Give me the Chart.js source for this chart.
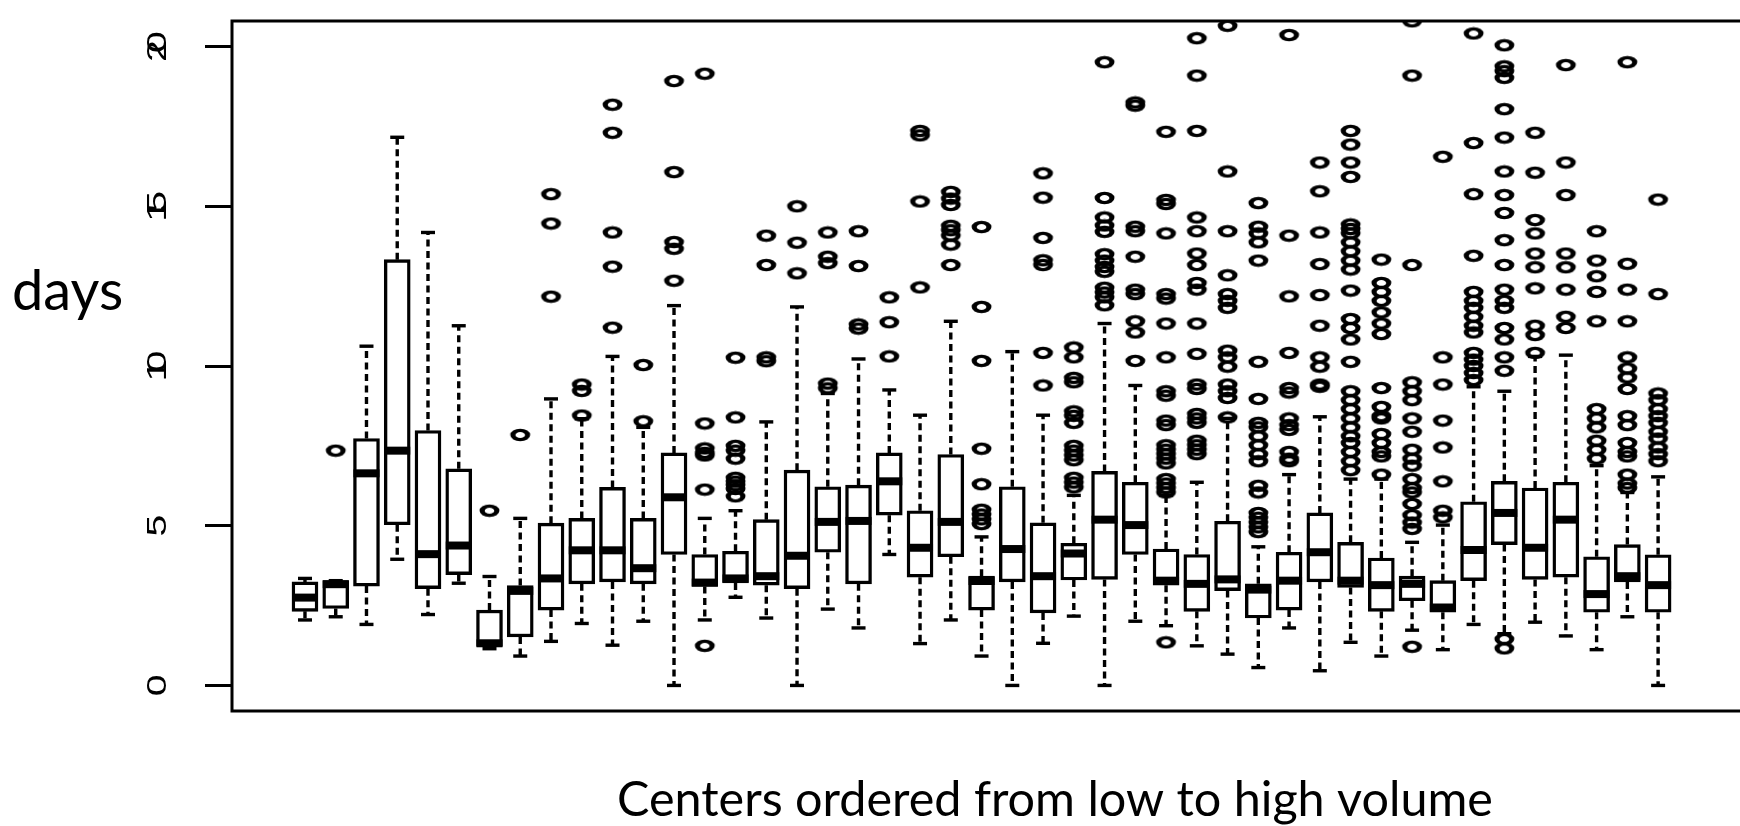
<!DOCTYPE html>
<html>
<head>
<meta charset="utf-8">
<title>Days by center</title>
<script src="https://cdn.jsdelivr.net/npm/chart.js@4.4.1/dist/chart.umd.min.js"></script>
<style>
  html, body { margin: 0; padding: 0; background: #fff; overflow: hidden; }
</style>
</head>
<body>
<canvas id="boxChart" width="1740" height="826"></canvas>
<script>
// Five-number summaries per center, centers ordered from low to high volume
const lowerWhisker = [2.05, 2.15, 1.91, 3.95, 2.22, 3.20, 1.15, 0.92, 1.38, 1.94,
  1.26, 2.01, 0, 2.05, 2.76, 2.11, 0, 2.39, 1.80, 4.10,
  1.31, 2.05, 0.92, 0, 1.32, 2.17, 0, 2.01, 1.87, 1.24,
  0.98, 0.56, 1.80, 0.46, 1.35, 0.92, 1.73, 1.12, 1.91, 1.62,
  1.98, 1.55, 1.12, 2.15, 0];
const lowerQuartile = [2.32, 2.41, 3.11, 5.03, 3.03, 3.47, 1.22, 1.52, 2.36, 3.18,
  3.24, 3.18, 4.10, 3.10, 3.21, 3.14, 3.03, 4.17, 3.18, 5.33,
  3.39, 4.03, 2.36, 3.24, 2.27, 3.30, 3.32, 4.10, 3.14, 2.32,
  2.97, 2.11, 2.36, 3.24, 3.07, 2.32, 2.65, 2.29, 3.28, 4.41,
  3.32, 3.39, 2.29, 3.24, 2.29];
const medianDays = [2.75, 3.17, 6.64, 7.35, 4.11, 4.38, 1.32, 2.96, 3.35, 4.23,
  4.23, 3.67, 5.89, 3.22, 3.35, 3.42, 4.06, 5.12, 5.15, 6.39,
  4.31, 5.12, 3.27, 4.27, 3.42, 4.13, 5.19, 5.02, 3.28, 3.18,
  3.32, 3.00, 3.28, 4.17, 3.28, 3.14, 3.18, 2.44, 4.24, 5.40,
  4.31, 5.19, 2.86, 3.42, 3.14];
const upperQuartile = [3.24, 3.28, 7.73, 13.33, 7.98, 6.78, 2.36, 3.13, 5.08, 5.23,
  6.20, 5.23, 7.28, 4.10, 4.20, 5.19, 6.74, 6.22, 6.27, 7.28,
  5.47, 7.23, 3.42, 6.22, 5.09, 4.45, 6.70, 6.36, 4.27, 4.10,
  5.14, 3.18, 4.17, 5.40, 4.48, 3.99, 3.42, 3.28, 5.75, 6.39,
  6.18, 6.36, 4.03, 4.41, 4.09];
const upperWhisker = [3.35, 3.28, 10.62, 17.16, 14.18, 11.26, 3.41, 5.23, 8.97, 8.35,
  10.30, 8.08, 11.89, 5.23, 5.47, 8.25, 11.85, 9.14, 10.22, 9.25,
  8.46, 11.40, 4.65, 10.45, 8.46, 5.95, 11.33, 9.39, 5.96, 6.36,
  8.36, 4.34, 6.60, 8.41, 6.46, 6.46, 4.48, 5.02, 9.35, 9.21,
  10.30, 10.34, 6.88, 6.04, 6.53];

const outliers = [
  [], [7.35], [], [], [], [], [5.47], [7.84],
  [15.38, 14.46, 12.17],
  [9.42, 9.22, 8.45],
  [18.18, 17.30, 14.18, 13.11, 11.20],
  [10.03, 8.27],
  [18.92, 16.07, 13.88, 13.67, 12.67],
  [19.15, 8.20, 7.42, 7.28, 7.20, 6.13, 1.24],
  [10.26, 8.39, 7.50, 7.35, 7.10, 6.50, 6.38, 6.27, 6.15, 5.92],
  [14.08, 13.16, 10.27, 10.15],
  [15.00, 13.86, 12.90],
  [14.18, 13.42, 13.22, 9.45, 9.30],
  [14.22, 13.13, 11.30, 11.17],
  [12.15, 11.37, 10.30],
  [17.36, 17.22, 15.15, 12.46],
  [15.45, 15.24, 15.04, 14.39, 14.25, 14.08, 13.80, 13.16],
  [14.35, 11.85, 10.16, 7.41, 6.30, 5.50, 5.35, 5.20, 5.05],
  [],
  [16.03, 15.27, 14.01, 13.31, 13.16, 10.41, 9.39],
  [10.58, 10.27, 9.63, 9.49, 8.58, 8.44, 8.22, 7.50, 7.35, 7.20, 7.05, 6.50, 6.35, 6.20],
  [19.51, 15.26, 14.65, 14.40, 14.20, 13.50, 13.30, 13.10, 12.95, 12.45, 12.30, 12.15, 11.90],
  [18.25, 18.15, 14.36, 14.22, 13.42, 12.39, 12.25, 11.40, 11.05, 10.16],
  [17.33, 15.20, 15.07, 14.15, 12.25, 12.11, 11.33, 10.27, 9.21, 9.07, 8.29, 8.15,
    7.52, 7.38, 7.24, 7.10, 6.95, 6.46, 6.32, 6.18, 6.04, 1.35],
  [20.26, 19.09, 17.36, 14.65, 14.22, 13.52, 13.16, 12.60, 12.39, 11.33, 10.38, 9.42,
    9.28, 8.50, 8.36, 8.22, 7.66, 7.52, 7.38, 7.24],
  [20.65, 16.09, 14.22, 12.84, 12.25, 12.04, 11.82, 10.48, 10.27, 9.98, 9.42, 9.21, 9.00, 8.39],
  [15.10, 14.36, 14.15, 13.87, 13.30, 10.13, 8.97, 8.22, 8.08, 7.80, 7.52, 7.24, 7.02,
    6.25, 6.04, 5.40, 5.25, 5.10, 4.95, 4.80],
  [20.36, 14.08, 12.18, 10.41, 9.31, 9.17, 8.36, 8.15, 8.00, 7.31, 7.10, 7.02],
  [16.37, 15.47, 14.18, 13.19, 12.22, 11.26, 10.27, 9.98, 9.42, 9.35],
  [17.36, 16.93, 16.37, 15.92, 14.43, 14.29, 14.15, 13.87, 13.59, 13.30, 13.02, 12.36,
    11.47, 11.19, 10.83, 10.13, 9.21, 8.93, 8.65, 8.36, 8.08, 7.80, 7.59, 7.31, 7.02, 6.74],
  [13.33, 12.60, 12.32, 12.04, 11.68, 11.33, 11.00, 9.31, 8.72, 8.43, 8.36, 7.87, 7.59,
    7.31, 7.17, 6.60],
  [20.79, 19.09, 13.16, 9.49, 9.21, 8.93, 8.36, 7.94, 7.38, 7.10, 6.88, 6.46, 6.18, 6.04,
    5.68, 5.33, 5.10, 4.90, 1.21],
  [16.55, 10.27, 9.42, 8.29, 7.45, 6.39, 5.47, 5.26],
  [20.41, 16.98, 15.38, 13.45, 12.32, 12.04, 11.82, 11.54, 11.26, 11.05, 10.41, 10.20,
    10.00, 9.78, 9.56],
  [20.04, 19.38, 19.23, 19.02, 18.04, 17.15, 16.09, 15.35, 14.79, 13.94, 13.16, 12.39,
    12.04, 11.82, 11.19, 10.83, 10.27, 9.85, 1.45, 1.16],
  [17.30, 16.05, 14.57, 14.15, 13.52, 13.09, 12.43, 11.26, 10.97, 10.41],
  [19.42, 16.37, 15.35, 13.52, 13.09, 12.39, 11.54, 11.19],
  [14.22, 13.30, 12.81, 12.32, 11.40, 8.65, 8.36, 8.08, 7.66, 7.38, 7.10],
  [19.51, 13.20, 12.39, 11.40, 10.27, 9.92, 9.64, 9.28, 8.43, 8.15, 7.59, 7.31, 7.17,
    6.60, 6.32, 6.18],
  [15.21, 12.25, 9.14, 8.93, 8.65, 8.43, 8.22, 7.94, 7.73, 7.45, 7.24, 7.02]
];

const yTicks = [0, 5, 10, 15, 20];
const yTitle = "days";
const xTitle = "Centers ordered from low to high volume";

const centers = medianDays.map((_, i) => i + 1);

const boxes = centers.map((c, i) => ({ x: c, y: [lowerQuartile[i], upperQuartile[i]] }));
const medians = centers.map((c, i) => ({ x: c, y: medianDays[i] }));
const caps = centers.flatMap((c, i) => [
    { x: c, y: lowerWhisker[i] },
    { x: c, y: upperWhisker[i] }
]);
// null between pairs so each whisker is its own dashed segment
const whiskers = centers.flatMap((c, i) => [
    { x: c, y: upperQuartile[i] }, { x: c, y: upperWhisker[i] }, { x: c, y: null },
    { x: c, y: lowerQuartile[i] }, { x: c, y: lowerWhisker[i] }, { x: c, y: null }
]);
const outlierPoints = centers.flatMap((c, i) => outliers[i].map(v => ({ x: c, y: v })));

// open circle, squashed flat, used as the outlier marker
function ellipseMarker() {
    const c = document.createElement("canvas");
    c.width = 23;
    c.height = 14;
    const g = c.getContext("2d");
    g.strokeStyle = "#000";
    g.lineWidth = 3.2;
    g.translate(11.5, 7);
    g.scale(1.6, 1);
    g.beginPath();
    g.arc(0, 0, 4.6, 0, Math.PI * 2);
    g.stroke();
    return c;
}

// rotated axis number with stretched, tightly packed digits
function drawAxisNumber(ctx, text, x, y) {
    const step = 9;
    [...text].forEach((ch, i) => {
        const offset = (i - (text.length - 1) / 2) * step;
        ctx.save();
        ctx.translate(x, y - offset);
        ctx.rotate(-Math.PI / 2);
        ctx.scale(1.4, 1);
        ctx.fillText(ch, 0, 0);
        ctx.restore();
    });
}

const framePlugin = {
    id: "frame",
    afterDraw(chart) {
        const { ctx, chartArea: a, scales } = chart;
        ctx.save();
        ctx.strokeStyle = "#000";
        ctx.lineWidth = 3;
        // plot box runs past the right edge of the page
        ctx.strokeRect(a.left, a.top, a.right - a.left + 30, a.bottom - a.top);

        ctx.fillStyle = "#000";
        ctx.font = '28px "Liberation Sans"';
        ctx.textAlign = "center";
        ctx.textBaseline = "alphabetic";
        yTicks.forEach(v => {
            drawAxisNumber(ctx, String(v), 166, scales.y.getPixelForValue(v));
        });

        ctx.font = "56px Lato";
        ctx.textAlign = "left";
        ctx.fillText(yTitle, 12, 310);

        ctx.font = "48.5px Lato";
        ctx.textAlign = "center";
        ctx.fillText(xTitle, 1055, 816);
        ctx.restore();
    }
};

const ctx = document.getElementById("boxChart").getContext("2d");

new Chart(ctx, {
    data: {
        datasets: [
            {
                type: "line",
                data: whiskers,
                borderColor: "#000",
                borderWidth: 3.4,
                borderDash: [7, 4.5],
                pointRadius: 0,
                spanGaps: false,
                tension: 0,
                order: 5
            },
            {
                type: "bar",
                data: boxes,
                backgroundColor: "#fff",
                borderColor: "#000",
                borderWidth: 3.4,
                borderSkipped: false,
                barThickness: 26,
                order: 4
            },
            {
                type: "scatter",
                data: medians,
                pointStyle: "line",
                pointRadius: 13,
                borderColor: "#000",
                borderWidth: 8,
                order: 3
            },
            {
                type: "scatter",
                data: caps,
                pointStyle: "line",
                pointRadius: 7,
                borderColor: "#000",
                borderWidth: 3.4,
                order: 2
            },
            {
                type: "scatter",
                data: outlierPoints,
                pointStyle: ellipseMarker(),
                pointRadius: 5,
                clip: 0,
                order: 1
            }
        ]
    },
    options: {
        responsive: false,
        animation: false,
        events: [],
        layout: { padding: { top: 11, bottom: 115, left: 0, right: 0 } },
        plugins: {
            legend: { display: false },
            tooltip: { enabled: false }
        },
        scales: {
            x: {
                type: "linear",
                min: -1.373,
                max: 46.98,
                offset: false,
                display: false
            },
            y: {
                type: "linear",
                min: -0.8,
                max: 20.8,
                afterBuildTicks: s => { s.ticks = yTicks.map(v => ({ value: v })); },
                afterFit: s => { s.width = 232; },
                ticks: { display: false },
                border: { display: false },
                grid: {
                    drawOnChartArea: false,
                    drawTicks: true,
                    tickLength: 27,
                    tickWidth: 3,
                    tickColor: "#000"
                }
            }
        }
    },
    plugins: [framePlugin]
});
</script>
</body>
</html>
